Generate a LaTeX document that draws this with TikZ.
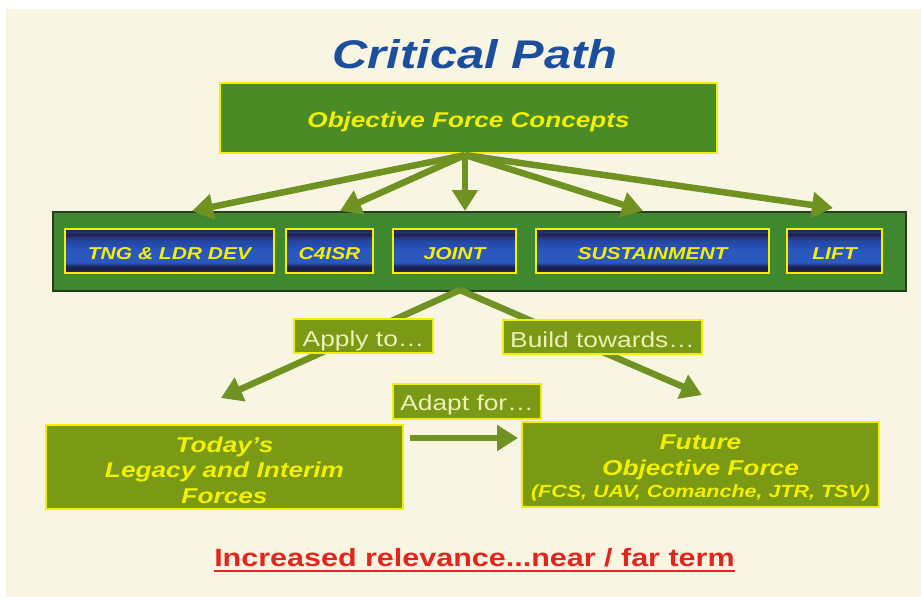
\documentclass[tikz,border=0pt]{standalone}
\usepackage{fontspec}
\setmainfont{Liberation Sans}[FakeStretch=1.22]
\usetikzlibrary{arrows.meta,calc}
\definecolor{cream}{HTML}{F8F6E3}
\definecolor{titleblue}{HTML}{1C4E9E}
\definecolor{topgreen}{HTML}{4B8B27}
\definecolor{bandgreen}{HTML}{3F8830}
\definecolor{bandedge}{HTML}{2B3A22}
\definecolor{olive}{HTML}{7A9914}
\definecolor{arrowgreen}{HTML}{6F9222}
\definecolor{yel}{HTML}{F2F000}
\definecolor{paleyel}{HTML}{EEF0B4}
\definecolor{redtxt}{HTML}{E3261C}
\definecolor{navyA}{HTML}{1B2050}
\definecolor{navyB}{HTML}{2A3270}
\definecolor{navyL}{HTML}{5A6AA0}
\definecolor{blueM}{HTML}{2A58BE}
\definecolor{blueT}{HTML}{2346A4}
\pgfdeclareverticalshading{bluebar}{100bp}{color(0bp)=(navyL); color(25bp)=(navyL); color(27.5bp)=(navyA); color(32.5bp)=(navyA); color(37bp)=(blueM); color(50bp)=(blueM); color(62bp)=(blueT); color(66bp)=(navyB); color(69bp)=(navyA); color(71.5bp)=(navyB); color(75bp)=(navyA); color(100bp)=(navyA)}
\tikzset{
  bluebox/.style={shading=bluebar, draw=yel, line width=1.3pt, inner sep=0pt, outer sep=0pt,
    minimum height=44pt, text=yel, text height=16.4pt, text depth=0pt,
    font=\fontsize{17.2}{20}\selectfont\bfseries\itshape},
  topbox/.style={fill=topgreen, draw=yel, line width=1.3pt, inner sep=0pt, outer sep=0pt,
    text=yel, text height=18.6pt, text depth=0pt,
    font=\fontsize{21.4}{25}\selectfont\bfseries\itshape},
  bandbox/.style={fill=bandgreen, draw=bandedge, line width=1.2pt, inner sep=0pt, outer sep=0pt},
  olivebox/.style={fill=olive, draw=yel, line width=1.3pt, inner sep=0pt, outer sep=0pt,
    text=yel, align=center, font=\fontsize{21.5}{25.5}\selectfont\bfseries\itshape},
  tagbox/.style={fill=olive, draw=yel, line width=1.3pt, inner sep=0pt, outer sep=0pt,
    text=paleyel, text depth=0pt, font=\fontsize{21.6}{26}\selectfont},
  fatarrow/.style={draw=arrowgreen, line width=6.5pt, -{Triangle[length=21pt,width=25pt]}},
}
\begin{document}
\begin{tikzpicture}[x=1pt,y=-1pt]
\useasboundingbox (0,0) rectangle (921,597);
\fill[white] (0,0) rectangle (921,597);
\fill[cream] (6,9) rectangle (921,597);
% title
\node[anchor=base, font=\fontsize{40}{48}\selectfont\bfseries\itshape, text=titleblue] (title) at (475,68) {Critical Path};
% top box
\node[topbox, minimum width=497pt, minimum height=70pt] (ofc) at (468.5,118) {Objective Force Concepts};
% hub and arrow tips
\coordinate (hub) at (465,155);
\coordinate (t1) at (192,211);
\coordinate (t2) at (340,211);
\coordinate (t3) at (465,211);
\coordinate (t4) at (643,211);
\coordinate (t5) at (833,208);
% band
\node[bandbox, minimum width=853pt, minimum height=79pt] (band) at (479.5,251.5) {};
\foreach \t in {t1,t2,t3,t4,t5} \draw[fatarrow] (hub) -- (\t);
% blue boxes
\node[bluebox, minimum width=209pt] (tng) at (169.5,251) {TNG \& LDR DEV};
\node[bluebox, minimum width=87pt] (c4isr) at (329.5,251) {C4ISR};
\node[bluebox, minimum width=123pt] (joint) at (454.5,251) {JOINT};
\node[bluebox, minimum width=233pt] (sust) at (652.5,251) {SUSTAINMENT};
\node[bluebox, minimum width=95pt] (lift) at (834.5,251) {LIFT};
% lower arrows
\coordinate (apex) at (460,290);
\coordinate (lt) at (221,398);
\coordinate (rt) at (702,395);
\draw[fatarrow] (apex) -- (lt);
\draw[fatarrow] (apex) -- (rt);
% tags
\node[tagbox, text height=20pt, minimum width=139pt, minimum height=34pt] (apply) at (363.5,336) {Apply to\dots};
\node[tagbox, text height=20pt, minimum width=199pt, minimum height=34pt] (build) at (602.5,337) {Build towards\dots};
\node[tagbox, text height=18pt, minimum width=148pt, minimum height=35pt] (adapt) at (467,401.5) {Adapt for\dots};
% bottom boxes
\node[olivebox, minimum width=357pt, minimum height=84pt] (today) at (224.5,467) {\rule{0pt}{22pt}Today’s\\Legacy and Interim\\Forces};
\node[olivebox, minimum width=357pt, minimum height=85pt] (future) at (700.5,464.5) {\rule{0pt}{22pt}Future\\Objective Force\\[-3pt]{\fontsize{17.6}{20}\selectfont(FCS, UAV, Comanche, JTR, TSV)}};
\draw[fatarrow] ($(today.north east)+(7,13)$) -- ($(future.north west)+(-4,16)$);
% red note
\node[anchor=base, font=\fontsize{25}{30}\selectfont\bfseries, text=redtxt, inner sep=0pt] (note) at (474.5,566) {Increased relevance...near / far term};
\draw[redtxt, line width=2.5pt] ($(note.base west)+(0,5)$) -- ($(note.base east)+(0,5)$);
\end{tikzpicture}
\end{document}
